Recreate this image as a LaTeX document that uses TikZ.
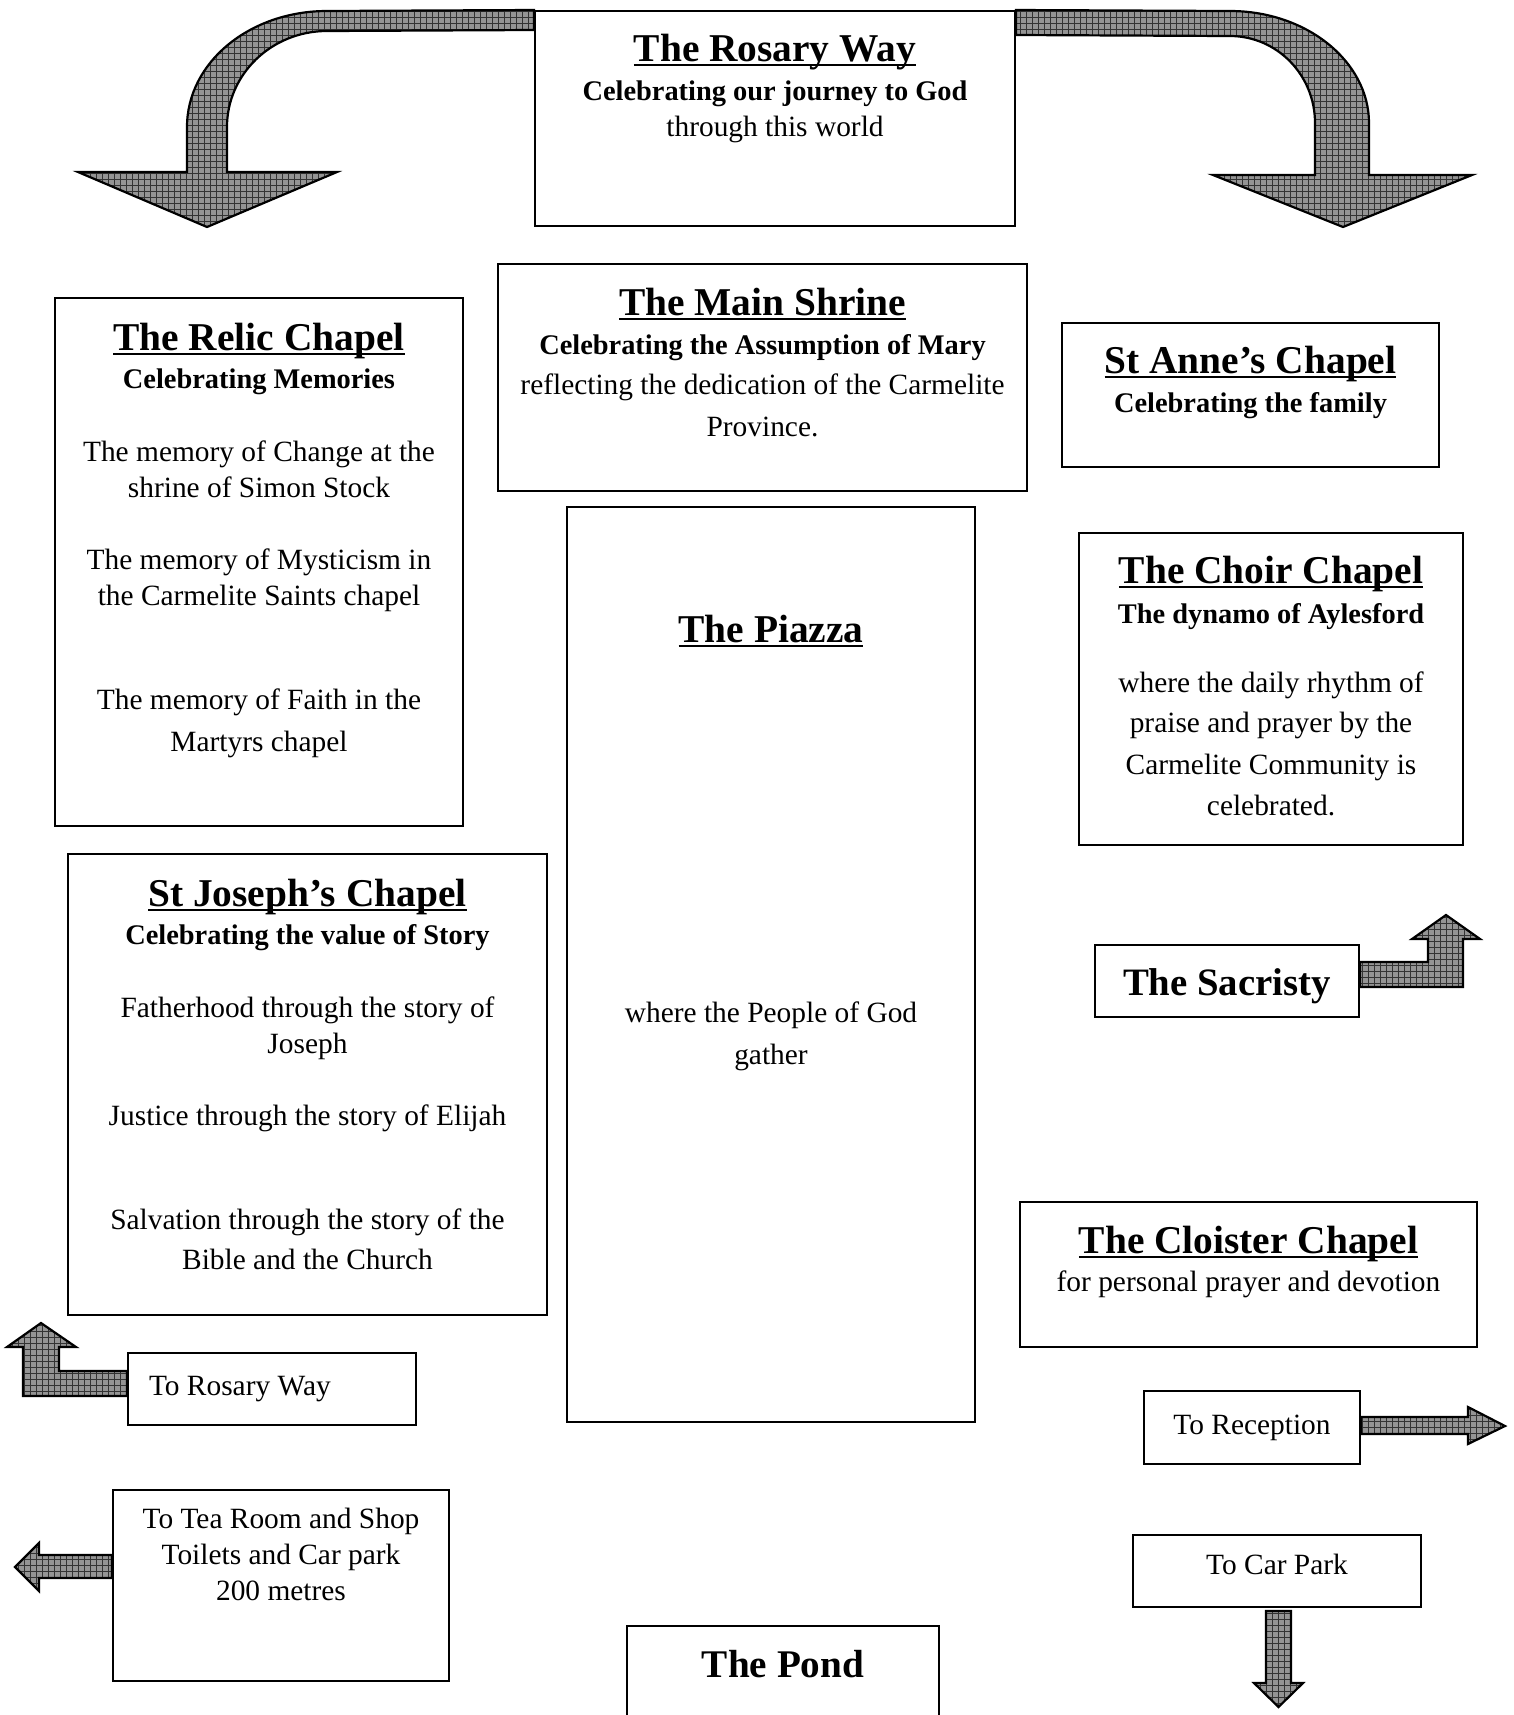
\documentclass[tikz,border=0pt]{standalone}
\usepackage{fontspec}
\setmainfont{Liberation Serif}
\usetikzlibrary{positioning, calc, patterns, backgrounds}

\newcommand{\bodyfont}{\fontsize{14.7}{18}\selectfont}
\newcommand{\titlefont}{\fontsize{19.7}{19}\selectfont\bfseries}
\newcommand{\subfont}{\fontsize{14.2}{18}\selectfont\bfseries}
\newcommand{\undertitle}[1]{\setbox0\hbox{#1}\rlap{\copy0}\rule[-2.2pt]{\wd0}{1.3pt}}

\tikzset{
  % boxes of the plan
  area/.style={draw=black, line width=1pt, fill=white, inner sep=0pt},
  areatext/.style={align=center, inner sep=0pt, font=\bodyfont},
  % shaded block arrows
  blockarrow/.style={draw=black, line width=1.1pt, line join=miter,
    preaction={fill=black!42}, pattern=grid, pattern color=black!80},
}

\begin{document}
\begin{tikzpicture}[x=0.5pt, y=-0.5pt]
  \useasboundingbox (0,0) rectangle (1514,1715);

  % Top
  \node[area, minimum width=240pt, minimum height=107.5pt] (rosary) at (775,118.5) {};
  \node[areatext, below=12pt of rosary.north] (rosarytext)
    {{\titlefont\undertitle{The Rosary Way}}\\[1.5pt]{\subfont Celebrating our journey to God}\\through this world};

  % Main Shrine
  \node[area, minimum width=264.5pt, minimum height=113.5pt] (shrine) at (762.5,377.5) {};
  \node[areatext, below=12.5pt of shrine.north] (shrinetext)
    {{\titlefont\undertitle{The Main Shrine}}\\[1.5pt]{\subfont Celebrating the Assumption of Mary}\\[2pt]reflecting the dedication of the Carmelite\\[3pt]Province.};

  % Relic Chapel
  \node[area, minimum width=204pt, minimum height=264pt] (relic) at (259,562) {};
  \node[areatext, below=13pt of relic.north] (relictext)
    {{\titlefont\undertitle{The Relic Chapel}}\\[1pt]{\subfont Celebrating Memories}\\[18.5pt]The memory of Change at the\\shrine of Simon Stock\\[18pt]The memory of Mysticism in\\the Carmelite Saints chapel\\[34pt]The memory of Faith in the\\[3pt]Martyrs chapel};

  % St Anne's Chapel
  \node[area, minimum width=188.5pt, minimum height=72pt] (anne) at (1250.5,395) {};
  \node[areatext, below=12pt of anne.north] (annetext)
    {{\titlefont\undertitle{St Anne's Chapel}}\\[1.5pt]{\subfont Celebrating the family}};

  % Piazza
  \node[area, minimum width=204pt, minimum height=457.5pt] (piazza) at (771,964.5) {};
  \node[areatext, below=54.5pt of piazza.north] (piazzatext)
    {{\titlefont\undertitle{The Piazza}}\\[172pt]where the People of God\\[3pt]gather};

  % Choir Chapel
  \node[area, minimum width=192pt, minimum height=156pt] (choir) at (1271,689) {};
  \node[areatext, below=12pt of choir.north] (choirtext)
    {{\titlefont\undertitle{The Choir Chapel}}\\[2pt]{\subfont The dynamo of Aylesford}\\[16.5pt]where the daily rhythm of\\[2pt]praise and prayer by the\\[3pt]Carmelite Community is\\[2.5pt]celebrated.};

  % St Joseph's Chapel
  \node[area, minimum width=239.5pt, minimum height=230.5pt] (joseph) at (307.5,1084.5) {};
  \node[areatext, below=13pt of joseph.north] (josephtext)
    {{\titlefont\undertitle{St Joseph's Chapel}}\\[1pt]{\subfont Celebrating the value of Story}\\[18.5pt]Fatherhood through the story of\\Joseph\\[18pt]Justice through the story of Elijah\\[34pt]Salvation through the story of the\\[2pt]Bible and the Church};

  % Sacristy
  \node[area, minimum width=132pt, minimum height=36pt, text height=16pt, text depth=1.4pt,
    font=\fontsize{19.4}{20}\selectfont\bfseries] (sacristy) at (1227,981) {The Sacristy};

  % Cloister Chapel
  \node[area, minimum width=228.5pt, minimum height=72.5pt] (cloister) at (1248.5,1274.5) {};
  \node[areatext, below=12.5pt of cloister.north] (cloistertext)
    {{\titlefont\undertitle{The Cloister Chapel}}\\[1pt]for personal prayer and devotion};

  % Directions
  \node[area, minimum width=144pt, minimum height=36pt, text width=123pt, align=flush left, font=\bodyfont] (torosary) at (272,1389) {To Rosary Way};
  \node[area, minimum width=108pt, minimum height=36.5pt, font=\bodyfont] (reception) at (1252,1427.5) {To Reception};
  \node[area, minimum width=168pt, minimum height=95.5pt] (teashop) at (281,1585.5) {};
  \node[areatext, below=9.5pt of teashop.north] (teashoptext)
    {To Tea Room and Shop\\Toilets and Car park\\200 metres};
  \node[area, minimum width=144pt, minimum height=36pt, text height=10pt, text depth=6.5pt, font=\bodyfont] (carpark) at (1277,1571) {To Car Park};

  % Pond
  \node[area, minimum width=156pt, minimum height=67pt] (pond) at (783,1693) {};
  \node[areatext, below=12.5pt of pond.north, font=\fontsize{19.6}{20}\selectfont\bfseries] (pondtext) {The Pond};

  % Arrows
  \begin{scope}[on background layer]
    \draw[blockarrow] (rosary.north west) -- (327,11)
      .. controls (249.7,11) and (187,62.4) .. (187,127) -- (187,172) -- (78,172)
      -- (207,227) -- (337,172) -- (227,172) -- (227,127)
      .. controls (227,74) and (271.8,31) .. (327,31) -- ($(rosary.north west)+(0,20)$) -- cycle;
    \draw[blockarrow] (rosary.north east) -- (1230,11)
      .. controls (1306.8,11) and (1369,61.7) .. (1369,123) -- (1369,175) -- (1472,175)
      -- (1343,227) -- (1213,175) -- (1315,175) -- (1315,123)
      .. controls (1315,75) and (1277,36) .. (1230,36) -- ($(rosary.north east)+(0,25)$) -- cycle;
    \draw[blockarrow] ($(sacristy.east)+(0,-19)$) -- (1428,962) -- (1428,939) -- (1412,939)
      -- (1446,915) -- (1480,939) -- (1463,939) -- (1463,987) -- ($(sacristy.east)+(0,6)$) -- cycle;
    \draw[blockarrow] ($(torosary.west)+(0,-18)$) -- (59,1371) -- (59,1347) -- (76,1347)
      -- (41,1323) -- (7,1347) -- (23,1347) -- (23,1396) -- ($(torosary.west)+(0,7)$) -- cycle;
    \draw[blockarrow] ($(teashop.west)+(0,-30.5)$) -- (39,1555) -- (39,1543) -- (15,1567)
      -- (39,1591) -- (39,1578) -- ($(teashop.west)+(0,-7.5)$) -- cycle;
    \draw[blockarrow] ($(reception.east)+(0,-10.5)$) -- (1468,1417) -- (1468,1407) -- (1505,1426)
      -- (1468,1444) -- (1468,1434) -- ($(reception.east)+(0,6.5)$) -- cycle;
    \draw[blockarrow] (1266,1611) -- (1291,1611) -- (1291,1683) -- (1303,1683)
      -- (1278.5,1707) -- (1254,1683) -- (1266,1683) -- cycle;
  \end{scope}
\end{tikzpicture}
\end{document}
